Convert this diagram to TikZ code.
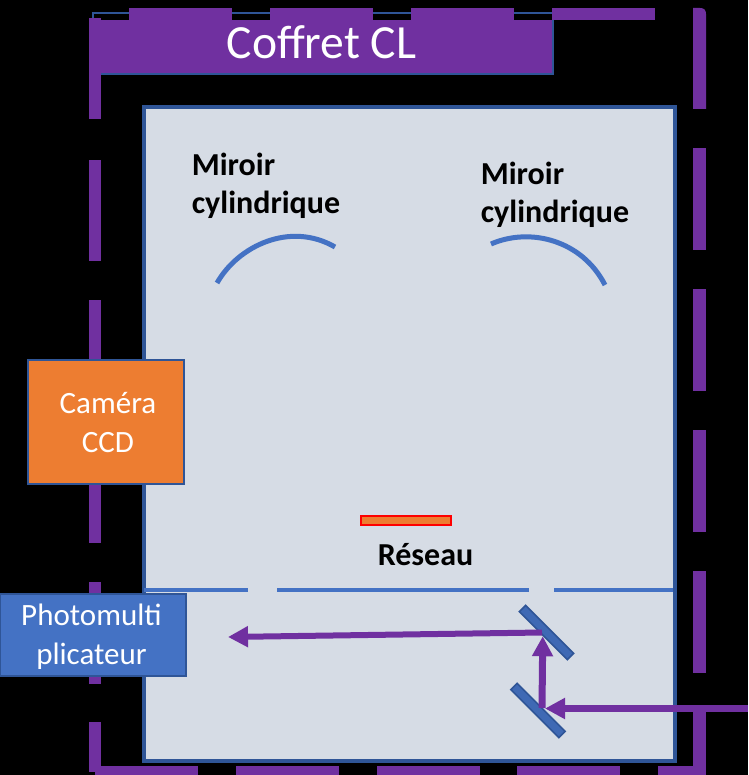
\documentclass[tikz,border=0pt]{standalone}
\usepackage{fontspec}
\setmainfont{Carlito}
\usetikzlibrary{arrows.meta}
\definecolor{purp}{HTML}{7030A0}
\definecolor{bluea}{HTML}{4472C4}
\definecolor{blued}{HTML}{2F5597}
\definecolor{pale}{HTML}{D6DCE5}
\definecolor{oran}{HTML}{ED7D31}
\tikzset{
  x=1pt,y=-1pt,
  frameseg/.style={fill=purp,draw=none},
  whitetext/.style={text=white,align=center,inner sep=0pt,font=\fontsize{31}{39}\selectfont},
  boldlabel/.style={font=\fontsize{32}{38}\selectfont\bfseries,align=left,inner sep=0pt,text=black},
  curvedmirror/.style={draw=bluea,line width=5pt},
  flatmirror/.style={rectangle,draw=blued,fill=bluea!92!black,line width=1.6pt,minimum width=68pt,minimum height=9pt,inner sep=0pt},
  beam/.style={draw=purp,line width=7pt,-{Triangle[length=20pt,width=20pt]}},
}
\begin{document}
\begin{tikzpicture}
\useasboundingbox (0,0) rectangle (748,775);
\begin{scope}
\clip (0,0) rectangle (748,775);
\fill[black] (0,0) rectangle (748,775);
% title
\fill[purp] (92,20) rectangle (552,73);
\node[draw=blued,line width=2pt,minimum width=460pt,minimum height=61pt,inner sep=0pt] (title) at (323,44) {};
\node[text=white,inner sep=0pt,font=\fontsize{47.6}{50}\selectfont] (titletext) at (321.5,42) {Coffret CL};
% dashed frame
\foreach \a in {18,160,300,441,582} \fill[frameseg] (89,\a) rectangle (101,\a+101.5);
\fill[frameseg] (89,722) rectangle (101,772);
\foreach \a in {129,270,411,552} \fill[frameseg] (\a,8) rectangle (\a+102.5,20.5);
\foreach \a in {95,236,377,517} \fill[frameseg] (\a,766) rectangle (\a+102.5,778);
\fill[frameseg] (658,766) rectangle (706,778);
\foreach \a in {148,289,430,571} \fill[frameseg] (693,\a) rectangle (706,\a+102);
\fill[frameseg] (693,711) rectangle (706,778);
\fill[frameseg] (693,8) -- (700,8) .. controls (704,8) and (706,10) .. (706,14) -- (706,109) -- (693,109) -- cycle;
% spectrograph box
\node[draw=blued,fill=pale,line width=4pt,minimum width=530.5pt,minimum height=653.5pt,inner sep=0pt] (box) at (409.5,434) {};
% curved mirrors
\draw[curvedmirror] (217,283) .. controls (238,246) and (290,221) .. (335,247);
\draw[curvedmirror] (491,244) .. controls (530,227) and (582,240) .. (605,285);
\node[boldlabel] (lab1) at (266,185.5) {Miroir\\cylindrique};
\node[boldlabel] (lab2) at (555,194.5) {Miroir\\cylindrique};
% grating
\node[draw=red,fill=oran,line width=2pt,minimum width=89.5pt,minimum height=9pt,inner sep=0pt] (grating) at (406,520.5) {};
\node[boldlabel] (reseau) at (425.5,555) {Réseau};
% slit wall
\draw[bluea,line width=4.5pt] (144,590) -- (248,590) (277,590) -- (529,590) (554,590) -- (673,590);
% flat mirrors
\node[flatmirror,rotate=-45] (m1) at (546.5,632.5) {};
\node[flatmirror,rotate=-45] (m2) at (538,710.5) {};
% camera and PMT
\node[draw=blued,fill=oran,line width=2pt,minimum width=156.5pt,minimum height=124pt,inner sep=0pt] (cam) at (106,422) {};
\node[whitetext] (camtext) at (108,422.5) {Caméra\\CCD};
\node[draw=blued,fill=bluea,line width=2pt,minimum width=186pt,minimum height=82pt,inner sep=0pt] (pmt) at (93,634.5) {};
\node[whitetext] (pmttext) at (91.5,637) {Photomulti\\plicateur};
% beams
\coordinate (in) at (748,708.5);
\coordinate (fold) at (542,708);
\coordinate (out) at (542,632.5);
\coordinate (end) at (228,637);
\path[beam] (in) -- (545,708.5);
\path[beam] (fold) -- (m1.south);
\path[beam,line width=6pt] (out) -- (end);
\end{scope}
\end{tikzpicture}
\end{document}
